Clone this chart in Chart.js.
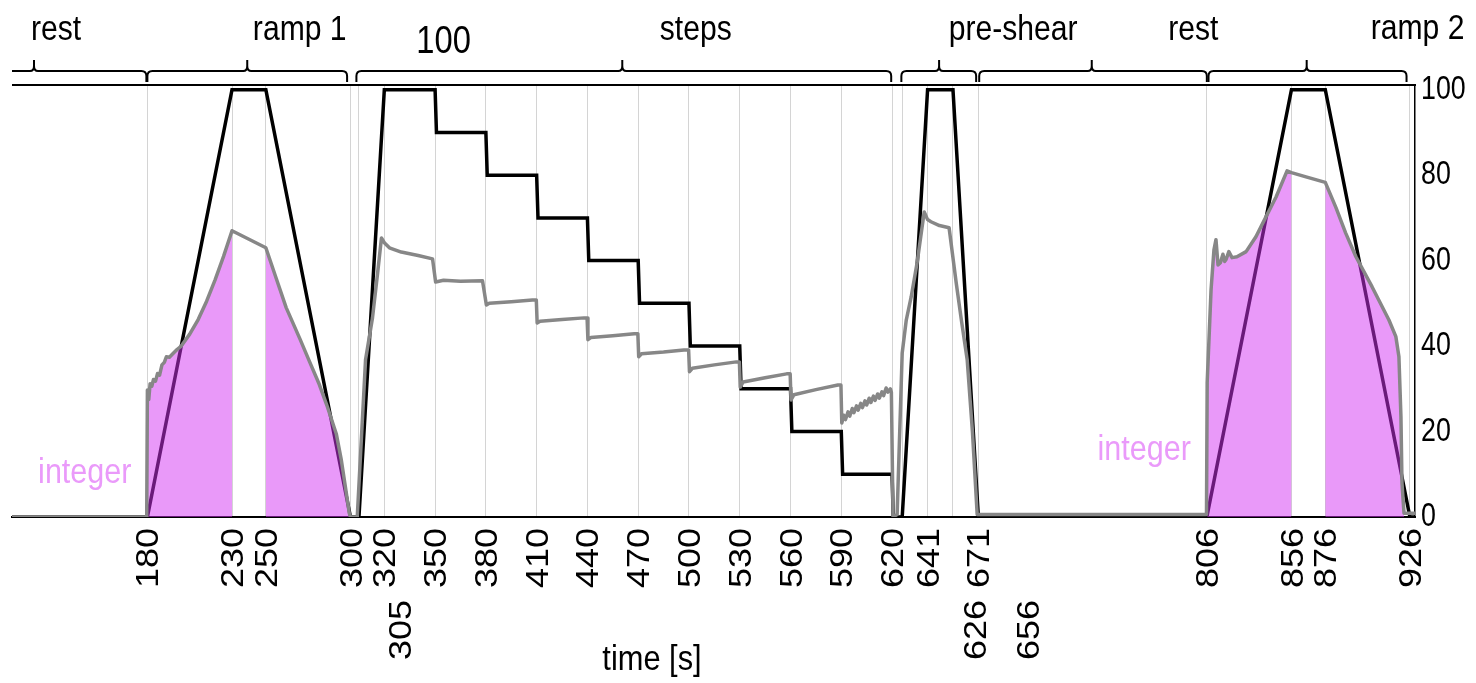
<!DOCTYPE html>
<html><head><meta charset="utf-8">
<script src="https://cdn.jsdelivr.net/npm/chart.js@4.4.1/dist/chart.umd.min.js"></script>
<style>html,body{margin:0;padding:0;background:#fff;overflow:hidden}canvas{display:block}</style>
</head><body>
<canvas id="c" width="1476" height="683"></canvas>
<script>
// ---------- DATA ----------
// set (shear-rate) profile, black line
const profileT = [100,180,230,250,300,305,320,350,350.8,380,380.8,410,410.8,440,440.8,470,470.8,500,500.8,530,530.8,560,560.8,590,590.8,620,620.7,626,641,656,671,806,856,876,926,929];
const profileV = [0,0,100,100,0,0,100,100,90,90,80,80,70,70,60,60,50,50,40,40,30,30,20,20,10,10,0,0,100,100,0,0,100,100,0,0];

// measured response, grey line
const stressT = [100,179.6,
  180,180.8,181.6,182.6,183.6,184.8,186,187.2,188.6,190,191.2,193,195,197.5,200,205,210,215,220,225,230,240,250,256,262,270,276,281.6,286,291.6,294.6,297,299.3,300,
  304,308.9,313,316,318.3,320,323,330,340,348.5,350.3,355,365,378,380.3,382,395,407.5,409.8,410.3,412,425,438,439.8,440.3,442,455,467.7,469.8,470.3,472,485,497,499.8,500.3,502,515,528,529.8,530.3,532,545,557.7,559.8,560.3,562,575,588,589.8,
  590.3,591.5,592.5,594,595,596.5,597.5,599,600,601.5,602.5,604,605,606.5,607.5,609,610,611.5,612.5,614,615,616.5,617.5,619,619.6,620.6,
  623,626,628.4,631.3,634.8,639,641,643,648,653.7,657.9,661,664.4,667.5,670.3,
  671,805.8,
  806.2,808.5,810.2,811.4,812.6,814,815.5,816.5,817.3,819,820.9,823.8,829.2,835,841,846.9,853.4,856,864.6,876,882.3,888,894.1,903.6,913.6,917.7,919.5,920.7,921.3,922.5,929];
const stressV = [0,0,
  29.7,27.5,31.2,30.6,32.2,31.8,33.6,33.2,35.6,36.2,37.5,37.4,38.2,39.2,40,42.8,46.2,50.5,55.5,61,67,65,63,56,49,41.8,36.2,31,26.2,19.5,13.3,7,0.9,0,
  0,36.8,46.6,57,65.3,64.2,63,62,61.2,60.4,55,55.4,55.2,55.3,49.6,50,50.4,50.8,50.8,45.4,45.8,46.2,46.6,46.6,41.5,42,42.4,42.9,42.9,37.5,38.2,38.6,39.1,39.1,34,34.8,35.6,36.3,36.3,30.4,31.6,32.6,33.5,33.5,27.4,28.6,29.8,30.9,30.9,
  22,23.8,22.8,24.6,23.6,25.4,24.4,26,25,26.6,25.6,27.2,26.2,27.8,26.8,28.3,27.3,28.8,27.8,29.3,28.4,30.2,29.2,30,29.2,0,
  0.6,38.4,46.1,51.5,59.5,71.4,69.6,69.1,68.2,67.7,54.8,46,36.8,20,0.6,
  0.6,0.6,
  31.4,53.2,62.5,64.9,59,59.5,61.5,59.8,60.2,62.1,60.7,60.9,62.1,65.6,70.3,74.9,81,80.6,79.6,78.3,72.4,66.5,60.9,53.9,46.1,42.2,37.5,23.4,8,0.9,0.9];

// integration windows (shaded)
const integralFrom = [180,250,806,876];
const integralTo   = [230,300,856,926];
const integralLabels = ['integer','integer'];
const integralLabelAt = [143,769];

// axis ticks
const gridTicks = [180,230,250,300,305,320,350,380,410,440,470,500,530,560,590,620,626,641,656,671,806,856,876,926];
const upperTickLabels = ['180','230','250','300','320','350','380','410','440','470','500','530','560','590','620','641','671','806','856','876','926'];
const upperTickAt = [180,230,250,300,320,350,380,410,440,470,500,530,560,590,620,641,671,806,856,876,926];
const lowerTickLabels = ['305','626','656'];
const lowerTickAt = [329,669,700];
const yTicks = [0,20,40,60,80,100];
const xTitle = 'time [s]';

// phases (braces on top)
const phaseLabels = ['rest','ramp 1','100','steps','pre-shear','rest','ramp 2'];
const phaseLabelAt = [126,270,355,504,691.5,798,930.5];
const braceFrom = [96,180,303.5,625.5,671.5,807];
const braceTo   = [179.4,298,619.5,669.7,806,924];
const braceTip  = [113,239,460.6,647.8,738,865];

// ---------- STYLE ----------
const FONT = '"Liberation Sans", Arial, Helvetica, sans-serif';
const STYLE = {
  squeeze: 0.86,
  phaseSize: 35, phaseBase: 40, phaseSpecial: {2: {size: 38, base: 53}, 6: {size: 35, base: 39}},
  tickSize: 36, tickRow1: 528, tickRow2: 600,
  ySize: 33.5,
  titleSize: 35, titleX: 652, titleY: 670,
  intSize: 35.5, intY: [483, 460], intColor: 'rgb(234,154,250)',
  fill: 'rgba(212,52,244,0.5)'
};

const pts = (T, V) => T.map((t, i) => ({x: t, y: V[i]}));
const stressPts = pts(stressT, stressV);
const fillSets = integralFrom.map((a, k) => ({
  data: stressPts.filter(p => p.x >= a && p.x <= integralTo[k]),
  borderColor: 'transparent', borderWidth: 0, backgroundColor: STYLE.fill,
  fill: 'origin', pointRadius: 0, tension: 0
}));

function txt(ctx, s, x, y, size, align, rotate, color, squeeze) {
  ctx.save();
  ctx.translate(x, y);
  ctx.scale(squeeze == null ? STYLE.squeeze : squeeze, 1);
  if (rotate) ctx.rotate(-Math.PI / 2);
  ctx.font = size + 'px ' + FONT;
  ctx.fillStyle = color || '#000';
  ctx.textAlign = align;
  ctx.textBaseline = 'alphabetic';
  ctx.fillText(s, 0, rotate ? 0.358 * size : 0);
  ctx.restore();
}

const decor = {
  id: 'decor',
  afterDraw(chart) {
    const ctx = chart.ctx, xs = chart.scales.x, ys = chart.scales.y, a = chart.chartArea;
    // top frame line
    ctx.save();
    ctx.strokeStyle = '#000'; ctx.lineWidth = 2;
    ctx.beginPath(); ctx.moveTo(a.left, a.top); ctx.lineTo(a.right + 1, a.top); ctx.stroke();
    ctx.restore();
    // braces
    ctx.save();
    ctx.beginPath(); ctx.rect(a.left, 0, a.right - a.left + 2, a.top); ctx.clip();
    ctx.strokeStyle = '#000'; ctx.lineWidth = 2; ctx.lineJoin = 'round';
    const yl = 71, ye = 82, yt = 60, r = 5;
    braceFrom.forEach((f, i) => {
      const x1 = xs.getPixelForValue(f), x2 = xs.getPixelForValue(braceTo[i]), xm = xs.getPixelForValue(braceTip[i]);
      ctx.beginPath();
      ctx.moveTo(x1, ye); ctx.lineTo(x1, yl + r);
      ctx.quadraticCurveTo(x1, yl, x1 + r, yl);
      ctx.lineTo(xm - 4, yl);
      ctx.quadraticCurveTo(xm, yl, xm, yl - 5);
      ctx.lineTo(xm, yt);
      ctx.moveTo(xm, yl - 5);
      ctx.quadraticCurveTo(xm, yl, xm + 4, yl);
      ctx.lineTo(x2 - r, yl);
      ctx.quadraticCurveTo(x2, yl, x2, yl + r);
      ctx.lineTo(x2, ye);
      ctx.stroke();
    });
    ctx.restore();
    // phase labels
    phaseLabels.forEach((s, i) => {
      const sp = STYLE.phaseSpecial[i] || {};
      txt(ctx, s, xs.getPixelForValue(phaseLabelAt[i]), sp.base || STYLE.phaseBase, sp.size || STYLE.phaseSize, 'center');
    });
    // x tick labels (rotated)
    upperTickLabels.forEach((s, i) => txt(ctx, s, xs.getPixelForValue(upperTickAt[i]), STYLE.tickRow1, STYLE.tickSize, 'right', true));
    lowerTickLabels.forEach((s, i) => txt(ctx, s, xs.getPixelForValue(lowerTickAt[i]), STYLE.tickRow2, STYLE.tickSize, 'right', true));
    // y tick labels (right)
    yTicks.forEach(v => {
      const y = ys.getPixelForValue(v) - 3;
      txt(ctx, String(v), a.right + 6, y + 0.358 * STYLE.ySize, STYLE.ySize, 'left', false, '#000', 0.8);
    });
    // x title
    txt(ctx, xTitle, STYLE.titleX, STYLE.titleY, STYLE.titleSize, 'center', false, '#000', 0.88);
    // integral labels
    integralLabels.forEach((s, i) => txt(ctx, s, xs.getPixelForValue(integralLabelAt[i]), STYLE.intY[i], STYLE.intSize, 'center', false, STYLE.intColor));
  }
};

new Chart(document.getElementById('c'), {
  type: 'line',
  data: {
    datasets: [
      {data: stressPts, borderColor: '#878787', borderWidth: 3.5, pointRadius: 0, tension: 0, fill: false, borderJoinStyle: 'round'},
      ...fillSets,
      {data: pts(profileT, profileV), borderColor: '#000', borderWidth: 3.5, pointRadius: 0, tension: 0, fill: false, borderJoinStyle: 'miter'}
    ]
  },
  options: {
    responsive: false, animation: false, devicePixelRatio: 1,
    parsing: true,
    layout: {padding: {left: 12, top: 85, right: 0, bottom: 0}},
    plugins: {legend: {display: false}, tooltip: {enabled: false}},
    scales: {
      x: {
        type: 'linear', min: 100, max: 929,
        afterBuildTicks: s => { s.ticks = gridTicks.map(v => ({value: v})); },
        afterFit: s => { s.height = 683 - 517; },
        ticks: {display: false},
        grid: {color: '#d4d4d4', lineWidth: 1, drawTicks: false},
        border: {color: '#000', width: 2}
      },
      y: {
        position: 'right', min: 0, max: 101.1,
        afterBuildTicks: s => { s.ticks = yTicks.map(v => ({value: v})); },
        afterFit: s => { s.width = 61; },
        ticks: {display: false},
        grid: {display: false, drawTicks: false},
        border: {color: '#000', width: 1.5}
      }
    }
  },
  plugins: [decor]
});
</script>
</body></html>
